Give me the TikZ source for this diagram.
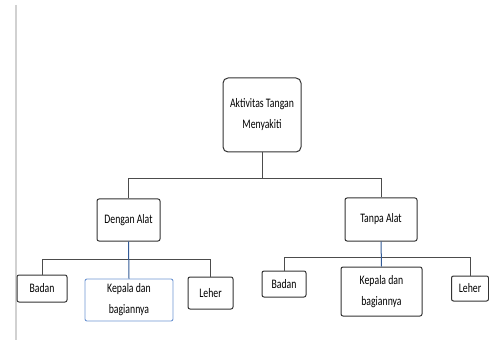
\documentclass[tikz,border=0pt]{standalone}
\usepackage{fontspec}
\setmainfont[FakeStretch=0.75]{Carlito}
\definecolor{boxblue}{RGB}{110,150,210}
\definecolor{lineblue}{RGB}{50,90,150}
\begin{document}
\begin{tikzpicture}[x=1pt,y=-1pt,
  box/.style={draw=black!80, line width=1pt, rounded corners=2pt, fill=white, inner sep=0pt, align=center,
    font=\fontsize{13pt}{21pt}\selectfont, text=black},
  bluebox/.style={box, draw=boxblue, line width=0.9pt},
  conn/.style={draw=black!70, line width=1pt},
  bconn/.style={draw=lineblue, line width=1pt}]
\useasboundingbox (0,0) rectangle (489,347);
\draw[black!18, line width=2pt] (15.5,5) -- (15.5,340);
\node[box, rounded corners=5pt, minimum width=78pt, minimum height=74pt] (top) at (262,115) {Aktivitas Tangan\\Menyakiti};
\node[box, minimum width=63pt, minimum height=42pt] (dengan) at (128.5,220) {Dengan Alat};
\node[box, minimum width=72pt, minimum height=43pt] (tanpa) at (381,219.5) {Tanpa Alat};
\node[box, minimum width=50pt, minimum height=27pt] (lbadan) at (42,288.5) {Badan};
\node[bluebox, minimum width=88pt, minimum height=42pt] (lkepala) at (129,300) {Kepala dan\\bagiannya};
\node[box, minimum width=45pt, minimum height=32pt] (lleher) at (210.5,293) {Leher};
\node[box, minimum width=44pt, minimum height=26pt] (rbadan) at (284,284) {Badan};
\node[box, minimum width=81pt, minimum height=49pt] (rkepala) at (381.5,291.5) {Kepala dan\\bagiannya};
\node[box, minimum width=37pt, minimum height=25pt] (rleher) at (470,288.5) {Leher};
\coordinate (j1) at (262,179);
\coordinate (j2) at (128.5,259);
\coordinate (j3) at (381,257);
\draw[conn] (top.south) -- (j1);
\draw[conn] (j1) -| (dengan.north);
\draw[conn] (j1) -| (tanpa.north);
\draw[conn] (j2) -| (lbadan.north);
\draw[conn] (j2) -| (lleher.north);
\draw[bconn] (dengan.south) -- (lkepala.north);
\draw[conn] (j3) -| (rbadan.north);
\draw[conn] (j3) -| (rleher.north);
\draw[bconn] (tanpa.south) -- (rkepala.north);
\end{tikzpicture}
\end{document}
